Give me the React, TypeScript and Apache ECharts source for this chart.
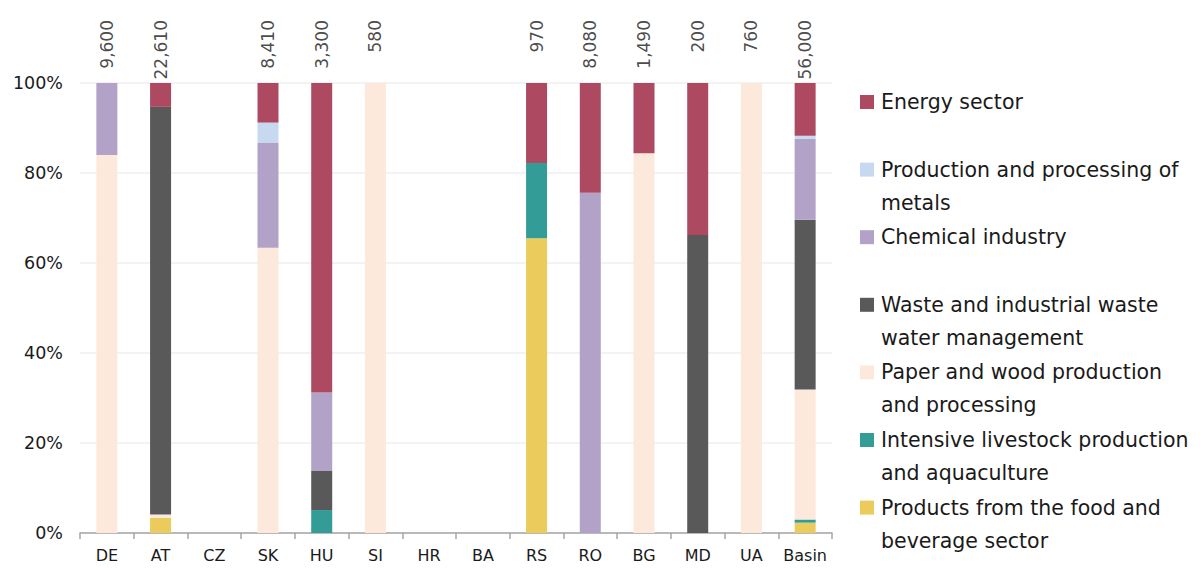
import React, { useEffect, useRef } from "react";
import * as echarts from "echarts";

const categories = ["DE", "AT", "CZ", "SK", "HU", "SI", "HR", "BA", "RS", "RO", "BG", "MD", "UA", "Basin"];
const totals: (number | null)[] = [9600, 22610, null, 8410, 3300, 580, null, null, 970, 8080, 1490, 200, 760, 56000];

// shares in % (stack order bottom -> top)
const food = [0, 3.4, 0, 0, 0, 0, 0, 0, 65.5, 0, 0, 0, 0, 2.3];
const livestock = [0, 0, 0, 0, 5.1, 0, 0, 0, 16.7, 0, 0, 0, 0, 0.7];
const paper = [84, 0.7, 0, 63.4, 0, 100, 0, 0, 0, 0, 84.4, 0, 100, 28.9];
const waste = [0, 90.6, 0, 0, 8.7, 0, 0, 0, 0, 0, 0, 66.2, 0, 37.7];
const chemical = [16, 0, 0, 23.4, 17.4, 0, 0, 0, 0, 75.6, 0, 0, 0, 18];
const metals = [0, 0, 0, 4.4, 0, 0, 0, 0, 0, 0, 0, 0, 0, 0.7];
const energy = [0, 5.3, 0, 8.8, 68.8, 0, 0, 0, 17.8, 24.4, 15.6, 33.8, 0, 11.7];

const yTicks = [0, 20, 40, 60, 80, 100];

const seriesDefs = [
  { name: "Products from the food and\nbeverage sector", data: food, color: "#EBCB5C" },
  { name: "Intensive livestock production\nand aquaculture", data: livestock, color: "#339C96" },
  { name: "Paper and wood production\nand processing", data: paper, color: "#FDE9DB" },
  { name: "Waste and industrial waste\nwater management", data: waste, color: "#595959" },
  { name: "Chemical industry", data: chemical, color: "#B3A2C7" },
  { name: "Production and processing of\nmetals", data: metals, color: "#C6D9F1" },
  { name: "Energy sector", data: energy, color: "#AD4A62" },
];

const FONT = "DejaVu Sans";
const TEXT = "#1a1a1a";

export default function App() {
  const ref = useRef<HTMLDivElement>(null);
  useEffect(() => {
    if (!ref.current) return;
    const chart = echarts.init(ref.current, null, { renderer: "svg" });

    const legendItems = [...seriesDefs].reverse();
    const legendGraphics: any[] = [];
    legendItems.forEach((s, i) => {
      const cy = 102 + i * 67.6;
      legendGraphics.push({
        type: "rect",
        shape: { x: 860, y: cy - 7, width: 14, height: 14 },
        style: { fill: s.color },
        silent: true,
      });
      legendGraphics.push({
        type: "text",
        x: 881,
        y: cy - 16.5,
        style: {
          text: s.name,
          font: `20.5px "${FONT}"`,
          fill: TEXT,
          lineHeight: 33,
          verticalAlign: "top",
          align: "left",
        },
        silent: true,
      });
    });

    chart.setOption({
      animation: false,
      textStyle: { fontFamily: FONT },
      grid: { left: 80, right: 368, top: 83, bottom: 35, containLabel: false },
      xAxis: {
        type: "category",
        data: categories,
        axisLine: { show: true, lineStyle: { color: "#a6a6a6", width: 1.5 } },
        axisTick: { show: true, length: 6, lineStyle: { color: "#a6a6a6", width: 1.5 } },
        axisLabel: { fontSize: 16, color: TEXT, fontFamily: FONT, margin: 14, interval: 0 },
      },
      yAxis: {
        type: "value",
        min: 0,
        max: 100,
        interval: 20,
        axisLine: { show: false },
        axisTick: { show: false },
        splitLine: { lineStyle: { color: "#efefef", width: 1.5 } },
        axisLabel: {
          fontSize: 17.5,
          color: TEXT,
          fontFamily: FONT,
          margin: 17,
          formatter: (v: number) => (yTicks.includes(v) ? `${v}%` : ""),
        },
      },
      series: [
        ...seriesDefs.map((s) => ({
          type: "bar",
          name: s.name,
          stack: "total",
          data: s.data,
          barWidth: 21,
          itemStyle: { color: s.color },
        })),
        {
          type: "scatter",
          name: "totals",
          data: totals.map((t) => (t == null ? "-" : 100)),
          symbolSize: 0,
          silent: true,
          z: 10,
          label: {
            show: true,
            position: [0, -63],
            rotate: 90,
            align: "right",
            verticalAlign: "middle",
            fontSize: 17,
            color: TEXT,
            fontFamily: FONT,
            formatter: (p: any) => {
              const t = totals[p.dataIndex];
              return t == null ? "" : t.toLocaleString("en-US");
            },
          },
        },
      ],
      graphic: legendGraphics,
    });
    return () => chart.dispose();
  }, []);
  return (
    <div
      ref={ref}
      style={{ position: "fixed", left: 0, top: 0, width: 1200, height: 568, background: "#fff" }}
    />
  );
}
